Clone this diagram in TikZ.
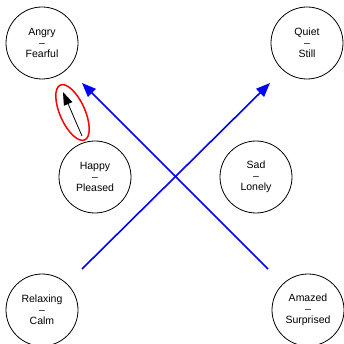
\documentclass[tikz,border=0pt]{standalone}
\usepackage{fontspec}
\setmainfont{Liberation Sans}
\usetikzlibrary{arrows.meta,shapes.geometric}
\begin{document}
\begin{tikzpicture}[x=1pt,y=-1pt,
  emo/.style={circle,draw=black,line width=0.8pt,minimum size=72pt,inner sep=0pt,
    align=center,font=\fontsize{10.5}{11}\selectfont},
  bluearrow/.style={draw=blue,line width=1.6pt,-{Triangle[length=14pt,width=11pt]}},
  blackarrow/.style={draw=black,line width=0.8pt,-{Triangle[length=13pt,width=9pt]}},
  hl/.style={draw=red,line width=1.5pt}]
\useasboundingbox (0,0) rectangle (343,344);
\node[emo] (angry) at (42,43) {Angry\\–\\Fearful};
\node[emo] (quiet) at (307,43) {Quiet\\–\\Still};
\node[emo] (happy) at (95,177) {Happy\\–\\Pleased};
\node[emo] (sad) at (256,177) {Sad\\–\\Lonely};
\node[emo] (relax) at (42,310) {Relaxing\\–\\Calm};
\node[emo] (amazed) at (308,310) {Amazed\\–\\Surprised};
\coordinate (b1s) at (82,269);
\coordinate (b1e) at (270,83);
\coordinate (b2s) at (268,269);
\coordinate (b2e) at (82,83);
\draw[bluearrow] (b1s) -- (b1e);
\draw[bluearrow] (b2s) -- (b2e);
\node[hl,ellipse,minimum width=60pt,minimum height=25pt,inner sep=0pt,rotate=-66] (mark) at (72.5,112.5) {};
\coordinate (ks) at (82,136);
\coordinate (ke) at (63,92);
\draw[blackarrow] (ks) -- (ke);
\end{tikzpicture}
\end{document}
